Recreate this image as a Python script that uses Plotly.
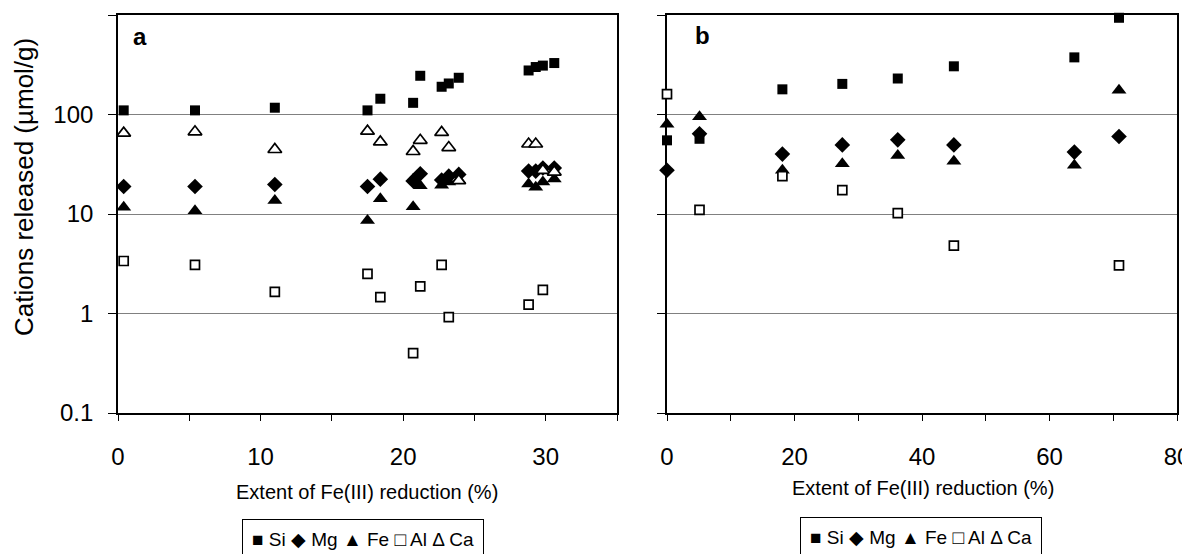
import plotly.graph_objects as go

# ---------------- data ----------------
# Panel a
a_x = [0.4, 5.4, 11.0, 17.5, 18.4, 20.7, 21.2, 22.7, 23.2, 23.9, 28.8, 29.3, 29.8, 30.6]
a_si = [110, 110, 117, 110, 144, 131, 245, 190, 205, 234, 277, 300, 310, 329]
a_mg = [18.9, 18.9, 19.8, 18.9, 22.4, 21.5, 25.4, 22, 24, 25, 27, 27, 29, 29]
a_fe = [11.7, 10.8, 13.7, 8.6, 14.2, 11.8, 19.2, 19.5, 21, 22, 20, 18.6, 21, 22.5]
a_al = [3.37, 3.08, 1.65, 2.5, 1.46, 0.40, 1.87, 3.08, 0.92, None, 1.23, None, 1.73, None]
a_ca = [65, 67, 44.5, 68, 53, 42.5, 55, 66, 46.5, 21.6, 50.5, 50.5, 27.4, 26.4]

# Panel b
b_x = [0, 5.1, 18.1, 27.5, 36.2, 45.0, 63.9, 70.9]
b_si = [55, 57, 179, 203, 230, 305, 375, 938]
b_mg = [27.5, 64, 40, 49.5, 55.6, 49.5, 41.9, 60]
b_fe = [80, 95, 27.5, 32, 38.8, 33.8, 30.9, 175]
b_al = [160, 11, 24, 17.4, 10.2, 4.8, None, 3.05]

y_ticks = [0.1, 1, 10, 100, 1000]
y_ticktext = ["0.1", "1", "10", "100", ""]
a_xticks = [0, 5, 10, 15, 20, 25, 30, 35]
a_xticktext = ["0", "", "10", "", "20", "", "30", ""]
b_xticks = [0, 10, 20, 30, 40, 50, 60, 70, 80]
b_xticktext = ["0", "", "20", "", "40", "", "60", "", "80"]

x_title = "Extent of Fe(III) reduction (%)"
y_title = "Cations released (\u00b5mol/g)"
legend_text = "\u25a0 Si \u25c6 Mg \u25b2 Fe \u25a1 Al \u0394 Ca"

FONT = "Liberation Sans, Arial, sans-serif"
W, H = 1190, 554
OX, OY = 8, 8  # page offset of the plot div


def px(x):
    return (x - OX) / W


def py(y):
    return 1 - (y - OY) / H


styles = {
    "Si": dict(symbol="square", size=10, color="black", line=dict(width=0)),
    "Mg": dict(symbol="diamond", size=12, color="black", line=dict(width=0)),
    "Fe": dict(symbol="triangle-up", size=13, color="black", line=dict(width=0)),
    "Al": dict(symbol="square", size=9, color="white", line=dict(width=1.7, color="black")),
    "Ca": dict(symbol="triangle-up", size=12, color="white", line=dict(width=1.7, color="black")),
}

fig = go.Figure()

for name, ys in [("Si", a_si), ("Mg", a_mg), ("Fe", a_fe), ("Al", a_al), ("Ca", a_ca)]:
    fig.add_trace(go.Scatter(x=a_x, y=ys, mode="markers", name=name, marker=styles[name],
                             xaxis="x", yaxis="y", cliponaxis=False, showlegend=False))
for name, ys in [("Si", b_si), ("Mg", b_mg), ("Fe", b_fe), ("Al", b_al)]:
    fig.add_trace(go.Scatter(x=b_x, y=ys, mode="markers", name=name, marker=styles[name],
                             xaxis="x2", yaxis="y2", cliponaxis=False, showlegend=False))

ydom = [py(413), py(15)]
common_axis = dict(showline=True, linecolor="black", linewidth=1.6, mirror=True,
                   ticks="outside", tickcolor="black", tickwidth=1,
                   layer="below traces", automargin=False, zeroline=False)
tickfont = dict(family=FONT, size=24, color="black")

fig.update_layout(
    template="none",
    width=W, height=H,
    margin=dict(l=0, r=0, t=0, b=0, pad=0),
    autosize=False,
    plot_bgcolor="white", paper_bgcolor="white",
    font=dict(family=FONT, color="black"),
    showlegend=False,
    xaxis=dict(domain=[px(118), px(617)], range=[0, 35], anchor="y",
               tickvals=a_xticks, ticktext=a_xticktext, ticklen=6,
               ticklabelstandoff=15, tickfont=tickfont, showgrid=False, **common_axis),
    yaxis=dict(domain=ydom, type="log", range=[-1, 3], anchor="x",
               tickvals=y_ticks, ticktext=y_ticktext, ticklen=8,
               ticklabelstandoff=10, tickfont=tickfont,
               showgrid=True, gridcolor="#808080", gridwidth=1.2, **common_axis),
    xaxis2=dict(domain=[px(667), px(1177)], range=[0, 80], anchor="y2",
                tickvals=b_xticks, ticktext=b_xticktext, ticklen=6,
                ticklabelstandoff=15, tickfont=tickfont, showgrid=False, **common_axis),
    yaxis2=dict(domain=ydom, type="log", range=[-1, 3], anchor="x2",
                tickvals=y_ticks, showticklabels=False, ticklen=8,
                showgrid=True, gridcolor="#808080", gridwidth=1.2, **common_axis),
)

ann = []
ann.append(dict(text=y_title, x=px(24), y=py(187), xref="paper", yref="paper",
                showarrow=False, textangle=-90, font=dict(size=26, family=FONT),
                xanchor="center", yanchor="middle"))
ann.append(dict(text=x_title, x=px(367), y=py(492), xref="paper", yref="paper",
                showarrow=False, font=dict(size=20, family=FONT),
                xanchor="center", yanchor="middle"))
ann.append(dict(text=x_title, x=px(923), y=py(488), xref="paper", yref="paper",
                showarrow=False, font=dict(size=20, family=FONT),
                xanchor="center", yanchor="middle"))
ann.append(dict(text="<b>a</b>", x=px(140), y=py(36), xref="paper", yref="paper",
                showarrow=False, font=dict(size=24, family=FONT),
                xanchor="center", yanchor="middle"))
ann.append(dict(text="<b>b</b>", x=px(702), y=py(35), xref="paper", yref="paper",
                showarrow=False, font=dict(size=24, family=FONT),
                xanchor="center", yanchor="middle"))
ann.append(dict(text=legend_text, x=px(363), y=py(519), xref="paper", yref="paper",
                showarrow=False, font=dict(size=19, family=FONT),
                xanchor="center", yanchor="top", bordercolor="black", borderwidth=1,
                borderpad=9, bgcolor="white"))
ann.append(dict(text=legend_text, x=px(921), y=py(517), xref="paper", yref="paper",
                showarrow=False, font=dict(size=19, family=FONT),
                xanchor="center", yanchor="top", bordercolor="black", borderwidth=1,
                borderpad=9, bgcolor="white"))
fig.update_layout(annotations=ann)

fig.write_html("out.html")
